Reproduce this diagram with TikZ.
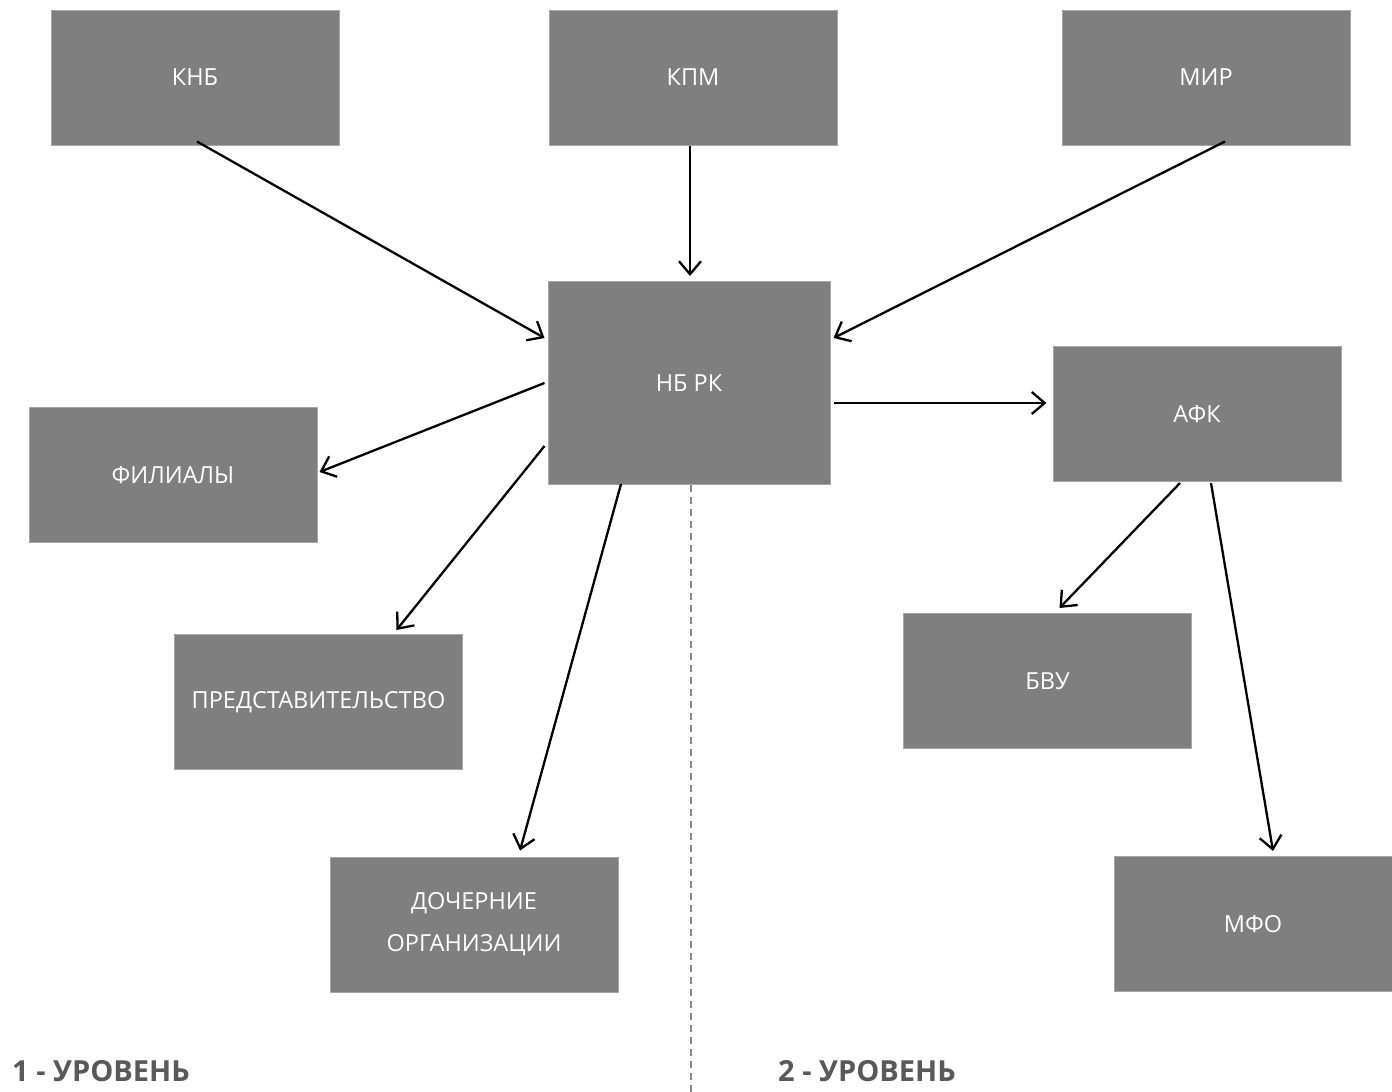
\documentclass[tikz,border=0pt]{standalone}
\usepackage{fontspec}
\setmainfont{Open Sans}
\usetikzlibrary{arrows.meta,calc}
\definecolor{boxgray}{HTML}{7F7F7F}
\definecolor{boxedge}{HTML}{A6A6A6}
\definecolor{lvlgray}{HTML}{595959}
\begin{document}
\begin{tikzpicture}[x=1pt,y=-1pt,
  box/.style={draw=boxedge,line width=1pt,fill=boxgray,text=white,inner sep=0pt,
    minimum width=288pt,minimum height=135pt,align=center,
    font=\fontsize{23.5}{42}\selectfont},
  conn/.style={draw=black,line width=2.3pt,-{Straight Barb[length=13pt,width=22pt,line width=2.3pt]}},
  lvl/.style={anchor=west,text=lvlgray,inner sep=0pt,font=\fontsize{29}{34}\selectfont\bfseries}]
\useasboundingbox (0,0) rectangle (1392,1092);
\fill[white] (0,0) rectangle (1392,1092);
% nodes
\node[box] (knb) at (195,77.5) {КНБ};
\node[box] (kpm) at (693,77.5) {КПМ};
\node[box] (mir) at (1206,77.5) {МИР};
\node[box,minimum width=282pt,minimum height=203pt] (nbrk) at (689,383) {НБ РК};
\node[box] (fil) at (173,475) {ФИЛИАЛЫ};
\node[box] (pred) at (318.5,702) {ПРЕДСТАВИТЕЛЬСТВО};
\node[box] (doch) at (474,924.5) {ДОЧЕРНИЕ\\ОРГАНИЗАЦИИ};
\node[box] (afk) at (1197,414) {АФК};
\node[box] (bvu) at (1047.5,681) {БВУ};
\node[box,minimum width=278pt] (mfo) at (1253,924) {МФО};
\node[lvl] (l1) at (12,1071) {1 - УРОВЕНЬ};
\node[lvl] (l2) at (778,1071) {2 - УРОВЕНЬ};
\coordinate (dashend) at (691,1092);
% dashed divider
\draw[boxedge!80!black,line width=1.3pt,dash pattern=on 7pt off 5pt] (nbrk.south-|dashend) -- (dashend);
% connectors
\draw[conn] ($(knb.south)+(2,-4)$) -- ($(nbrk.west)+(-3,-45)$);
\draw[conn] ($(kpm.south)+(-3,0)$) -- ($(nbrk.north)+(1,-5)$);
\draw[conn] ($(mir.south)+(19,-4)$) -- ($(nbrk.east)+(3,-45)$);
\draw[conn] ($(nbrk.west)+(-3,0)$) -- ($(fil.east)+(2,-3)$);
\draw[conn] ($(nbrk.west)+(-3,63)$) -- ($(pred.north)+(78,-4)$);
\draw[conn] ($(nbrk.south)+(-68,-1)$) -- ($(doch.north)+(46,-6)$);
\draw[conn] ($(nbrk.east)+(3,20)$) -- ($(afk.west)+(-6,-11)$);
\draw[conn] ($(afk.south)+(-17,1)$) -- ($(bvu.north)+(12,-5)$);
\draw[conn] ($(afk.south)+(14,1)$) -- ($(mfo.north)+(20,-5)$);
\end{tikzpicture}
\end{document}
